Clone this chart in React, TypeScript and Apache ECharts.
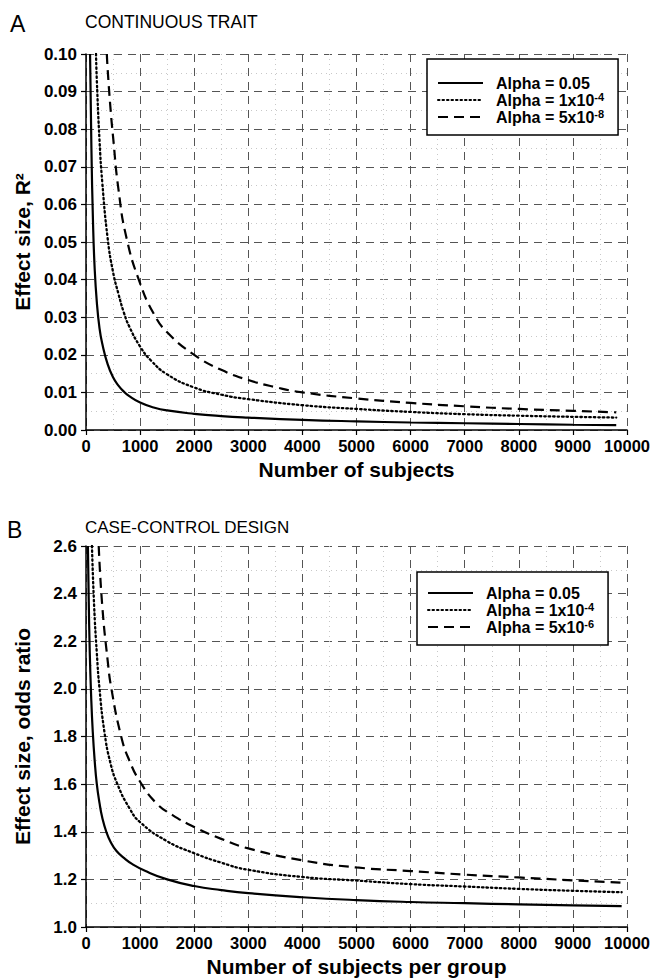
import React, { useEffect, useRef } from "react";
import * as echarts from "echarts";

// Panel A: continuous trait (N subjects vs R^2)
const aSolidN = [75, 100, 130, 160, 200, 250, 300, 400, 500, 600, 700, 800, 1000, 1250, 1500, 2000, 2500, 3000, 4000, 5000, 6000, 7000, 8000, 9000, 9800];
const aSolidR2 = [0.1, 0.075, 0.055, 0.043, 0.034, 0.027, 0.023, 0.0175, 0.014, 0.0118, 0.0102, 0.009, 0.0073, 0.006, 0.0052, 0.0043, 0.0037, 0.0033, 0.0027, 0.0023, 0.002, 0.0018, 0.0016, 0.0014, 0.0013];
const aDotN = [185, 200, 250, 300, 400, 500, 600, 700, 800, 1000, 1200, 1500, 2000, 2500, 3000, 4000, 5000, 6000, 7000, 8000, 9000, 9800];
const aDotR2 = [0.1, 0.093, 0.077, 0.066, 0.051, 0.042, 0.0362, 0.0312, 0.0275, 0.0222, 0.0185, 0.0148, 0.0113, 0.0094, 0.0082, 0.0066, 0.0056, 0.0048, 0.0042, 0.0038, 0.0035, 0.0033];
const aDashN = [385, 400, 450, 500, 600, 750, 1000, 1250, 1500, 2000, 2500, 3000, 3500, 4000, 5000, 6000, 7000, 8000, 9000, 9800];
const aDashR2 = [0.1, 0.096, 0.086, 0.078, 0.064, 0.051, 0.039, 0.031, 0.026, 0.02, 0.016, 0.0133, 0.0114, 0.01, 0.0084, 0.0072, 0.0063, 0.0056, 0.0051, 0.0047];

// Panel B: case-control design (N per group vs odds ratio)
const bSolidN = [35, 50, 70, 95, 125, 160, 200, 250, 300, 375, 460, 560, 700, 850, 1100, 1500, 2000, 2500, 3000, 4000, 5000, 6000, 7000, 8000, 9000, 9900];
const bSolidOR = [2.6, 2.38, 2.15, 1.97, 1.82, 1.7, 1.6, 1.52, 1.46, 1.4, 1.355, 1.32, 1.29, 1.265, 1.235, 1.2, 1.172, 1.155, 1.142, 1.125, 1.113, 1.105, 1.1, 1.095, 1.091, 1.088];
const bDotN = [110, 150, 200, 250, 340, 450, 580, 800, 1000, 1500, 2000, 2500, 3000, 4000, 5000, 6000, 7000, 8000, 9000, 9900];
const bDotOR = [2.6, 2.35, 2.15, 2.0, 1.82, 1.69, 1.6, 1.5, 1.44, 1.36, 1.31, 1.27, 1.24, 1.21, 1.195, 1.18, 1.17, 1.16, 1.152, 1.146];
const bDashN = [235, 300, 400, 470, 650, 800, 1000, 1300, 1600, 2000, 2500, 3000, 4000, 5000, 6000, 7000, 8000, 9000, 9900];
const bDashOR = [2.6, 2.35, 2.12, 2.0, 1.8, 1.7, 1.61, 1.52, 1.47, 1.42, 1.37, 1.33, 1.28, 1.25, 1.235, 1.22, 1.208, 1.196, 1.186];

const legendA = ["{t|Alpha = 0.05}", "{t|Alpha = 1x10}{s|-4}", "{t|Alpha = 5x10}{s|-8}"];
const legendB = ["{t|Alpha = 0.05}", "{t|Alpha = 1x10}{s|-4}", "{t|Alpha = 5x10}{s|-6}"];
const namesA = ["A1", "A2", "A3"];
const namesB = ["B1", "B2", "B3"];

const FONT = "'Liberation Sans', Arial, Helvetica, sans-serif";

const zip = (xs: number[], ys: number[]) => xs.map((x, i) => [x, ys[i]]);

const lineStyles = [
  { type: "solid", width: 2.2 },
  { type: [1.5, 3], width: 2.3, cap: "round" },
  { type: [10, 6], width: 2.2 },
];

export default function App() {
  const ref = useRef<HTMLDivElement>(null);
  useEffect(() => {
    if (!ref.current) return;
    const chart = echarts.init(ref.current, null, { renderer: "svg" });

    const xAxisBase = (gridIndex: number, name: string) => ({
      type: "value",
      gridIndex,
      min: 0,
      max: 10000,
      interval: 1000,
      name,
      nameLocation: "middle",
      nameGap: 29,
      nameTextStyle: { fontFamily: FONT, fontWeight: "bold", fontSize: 21, color: "#000" },
      axisLine: { show: true, lineStyle: { color: "#000", width: 1.5 } },
      axisTick: { show: true, length: 5, lineStyle: { color: "#000", width: 1.2 } },
      axisLabel: {
        fontFamily: FONT,
        fontWeight: "bold",
        fontSize: 16.5,
        color: "#000",
        margin: 7,
        formatter: (v: number) => String(v),
      },
      splitLine: { show: true, lineStyle: { color: "#555", width: 1, type: [8, 6] } },
      minorTick: { show: false, splitNumber: 2 },
      minorSplitLine: { show: true, lineStyle: { color: "#c8c8c8", width: 1, type: [1, 4] } },
    });

    const yAxisBase = (gridIndex: number, name: string, min: number, max: number, interval: number, dec: number) => ({
      type: "value",
      gridIndex,
      min,
      max,
      interval,
      name,
      nameLocation: "middle",
      nameGap: 53,
      nameTextStyle: { fontFamily: FONT, fontWeight: "bold", fontSize: 21, color: "#000" },
      axisLine: { show: true, lineStyle: { color: "#000", width: 1.5 } },
      axisTick: { show: true, length: 5, lineStyle: { color: "#000", width: 1.2 } },
      axisLabel: {
        fontFamily: FONT,
        fontWeight: "bold",
        fontSize: 17,
        color: "#000",
        margin: 9,
        formatter: (v: number) => v.toFixed(dec),
      },
      splitLine: { show: true, lineStyle: { color: "#555", width: 1, type: [8, 6] } },
      minorTick: { show: false, splitNumber: 2 },
      minorSplitLine: { show: true, lineStyle: { color: "#c8c8c8", width: 1, type: [1, 4] } },
    });

    const mkSeries = (name: string, data: number[][], idx: number, axisIndex: number) => ({
      name,
      type: "line",
      xAxisIndex: axisIndex,
      yAxisIndex: axisIndex,
      data,
      symbol: "none",
      smooth: 0.5,
      lineStyle: { color: "#000", ...lineStyles[idx] },
      itemStyle: { color: "#000" },
      clip: true,
    });

    const legendRich = {
      t: { fontFamily: FONT, fontWeight: "bold", fontSize: 16, color: "#000", lineHeight: 18, padding: [0, 0, 0, 8] },
      s: { fontFamily: FONT, fontWeight: "bold", fontSize: 11, color: "#000", verticalAlign: "top", lineHeight: 11 },
    };

    const mkLegend = (names: string[], labels: string[], left: number, top: number, padTop: number) => ({
      data: names,
      orient: "vertical",
      left,
      top,
      itemWidth: 45,
      itemHeight: 18,
      itemGap: 0,
      padding: [padTop, 14, 10, 10],
      borderColor: "#000",
      borderWidth: 1.5,
      backgroundColor: "#fff",
      selectedMode: false,
      itemStyle: { opacity: 0 },
      formatter: (n: string) => labels[names.indexOf(n)],
      textStyle: { rich: legendRich },
    });

    chart.setOption({
      animation: false,
      backgroundColor: "#fff",
      title: [
        { text: "A", left: 5, top: 7, textStyle: { fontFamily: FONT, fontWeight: "normal", fontSize: 23, color: "#000" } },
        { text: "CONTINUOUS TRAIT", left: 80, top: 8, textStyle: { fontFamily: FONT, fontWeight: "normal", fontSize: 17.5, color: "#000" } },
        { text: "B", left: 2, top: 513, textStyle: { fontFamily: FONT, fontWeight: "normal", fontSize: 23, color: "#000" } },
        { text: "CASE-CONTROL DESIGN", left: 80, top: 514, textStyle: { fontFamily: FONT, fontWeight: "normal", fontSize: 17, color: "#000" } },
      ],
      grid: [
        { left: 86, top: 54, width: 544, height: 376 },
        { left: 86, top: 546, width: 544, height: 383 },
      ],
      xAxis: [xAxisBase(0, "Number of subjects"), xAxisBase(1, "Number of subjects per group")],
      yAxis: [
        yAxisBase(0, "Effect size, R²", 0, 0.1, 0.01, 2),
        yAxisBase(1, "Effect size, odds ratio", 1.0, 2.6, 0.2, 1),
      ],
      legend: [mkLegend(namesA, legendA, 427, 59, 16), mkLegend(namesB, legendB, 417, 572, 13)],
      series: [
        mkSeries("A1", zip(aSolidN, aSolidR2), 0, 0),
        mkSeries("A2", zip(aDotN, aDotR2), 1, 0),
        mkSeries("A3", zip(aDashN, aDashR2), 2, 0),
        mkSeries("B1", zip(bSolidN, bSolidOR), 0, 1),
        mkSeries("B2", zip(bDotN, bDotOR), 1, 1),
        mkSeries("B3", zip(bDashN, bDashOR), 2, 1),
      ],
    });

    return () => chart.dispose();
  }, []);

  return <div ref={ref} style={{ position: "absolute", left: 0, top: 0, width: 653, height: 978 }} />;
}
